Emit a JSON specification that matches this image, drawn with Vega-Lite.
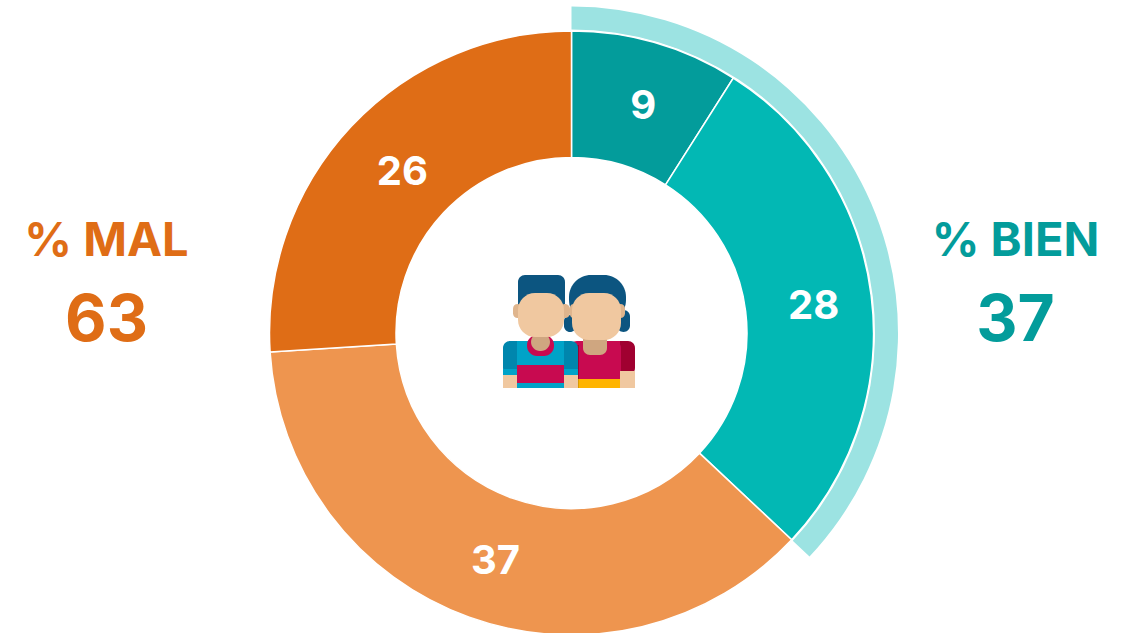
{"$schema":"https://vega.github.io/schema/vega-lite/v6.json","width":1118,"height":600,"padding":{"left":12.5,"top":33,"right":0,"bottom":0},"autosize":{"type":"none"},"background":"white","config":{"view":{"stroke":null}},
"datasets":{"seg":[{"segment":"Muy bien","value":9,"ord":1},{"segment":"Bien","value":28,"ord":2},{"segment":"Mal","value":37,"ord":3},{"segment":"Muy mal","value":26,"ord":4}],
"ring":[{"segment":"Total bien","value":37}],
"side":[{"group":"MAL","kind":"title","label":"% MAL"},{"group":"BIEN","kind":"title","label":"% BIEN"},{"group":"MAL","kind":"value","label":"63"},{"group":"BIEN","kind":"value","label":"37"}],
"icon":[
{"step":0,"part":"hair","x0":569,"x1":626,"y0":275,"y1":322},
{"step":1,"part":"hair","x0":564,"x1":576,"y0":315,"y1":332},
{"step":1,"part":"hair","x0":617,"x1":630,"y0":310,"y1":332},
{"step":1,"part":"hair","x0":518,"x1":565,"y0":275,"y1":315},
{"step":1,"part":"darkred","x0":610,"x1":635,"y0":341,"y1":375},
{"step":1,"part":"red","x0":570,"x1":621,"y0":341,"y1":380},
{"step":2,"part":"darkred","x0":570,"x1":579,"y0":345,"y1":379},
{"step":2,"part":"red","x0":579,"x1":620,"y0":341,"y1":379},
{"step":2,"part":"yellow","x0":579,"x1":620,"y0":379,"y1":388},
{"step":2,"part":"darkyellow","x0":576,"x1":579,"y0":379,"y1":388},
{"step":2,"part":"skin","x0":620,"x1":635,"y0":371,"y1":388},
{"step":3,"part":"darkblue","x0":503,"x1":578,"y0":341,"y1":375},
{"step":3,"part":"neck","x0":583,"x1":607,"y0":333,"y1":355},
{"step":4,"part":"blue","x0":517,"x1":564,"y0":341,"y1":388},
{"step":4,"part":"blue","x0":503,"x1":517,"y0":369,"y1":375},
{"step":4,"part":"blue","x0":564,"x1":578,"y0":369,"y1":375},
{"step":4,"part":"red","x0":517,"x1":564,"y0":365,"y1":383},
{"step":4,"part":"skin","x0":503,"x1":517,"y0":375,"y1":388},
{"step":4,"part":"skin","x0":564,"x1":578,"y0":375,"y1":388},
{"step":5,"part":"red","x0":527,"x1":554,"y0":335,"y1":356},
{"step":5,"part":"neck","x0":531,"x1":550,"y0":333,"y1":351},
{"step":5,"part":"ear","x0":513,"x1":522,"y0":304,"y1":318},
{"step":5,"part":"ear","x0":560,"x1":570,"y0":304,"y1":318},
{"step":5,"part":"ear","x0":570,"x1":577,"y0":304,"y1":318},
{"step":5,"part":"ear","x0":616,"x1":625,"y0":304,"y1":318},
{"step":6,"part":"skin","x0":518,"x1":564,"y0":293,"y1":337},
{"step":6,"part":"skin","x0":572,"x1":621,"y0":293,"y1":340}
]},
"resolve":{"scale":{"x":"independent","y":"independent","color":"independent","theta":"independent"}},
"layer":[
{"data":{"name":"ring"},"mark":{"type":"arc","innerRadius":303.5,"outerRadius":326.5},"encoding":{"theta":{"field":"value","type":"quantitative","scale":{"domain":[0,100]}},"color":{"field":"segment","type":"nominal","legend":null,"scale":{"range":["#9CE3E2"]}}}},
{"data":{"name":"seg"},"mark":{"type":"arc","innerRadius":175.5,"outerRadius":302,"stroke":"white","strokeWidth":1.5},"encoding":{"theta":{"field":"value","type":"quantitative","stack":true,"scale":{"domain":[0,100]}},"order":{"field":"ord"},"color":{"field":"segment","type":"nominal","legend":null,"scale":{"domain":["Muy bien","Bien","Mal","Muy mal"],"range":["#039C9B","#02B8B4","#EE954F","#DF6D16"]}}}},
{"data":{"name":"seg"},"mark":{"type":"text","radius":239,"dx":5,"dy":4,"font":"Inter","fontWeight":700,"fontSize":40,"fill":"white"},"encoding":{"theta":{"field":"value","type":"quantitative","stack":true,"scale":{"domain":[0,100]}},"order":{"field":"ord"},"text":{"field":"value"}}},
{"data":{"name":"side"},"mark":{"type":"text","font":"Inter","fontWeight":700,"baseline":"middle","align":"center"},"encoding":{"x":{"field":"group","type":"nominal","axis":null,"scale":{"type":"point","padding":0,"domain":["MAL","BIEN"],"range":[94,1003]}},"y":{"field":"kind","type":"nominal","axis":null,"scale":{"type":"point","padding":0,"domain":["title","value"],"range":[209,289]}},"text":{"field":"label"},"size":{"field":"kind","type":"nominal","legend":null,"scale":{"type":"ordinal","domain":["title","value"],"range":[47,64]}},"color":{"field":"group","type":"nominal","legend":null,"scale":{"domain":["MAL","BIEN"],"range":["#DF6D16","#039C9B"]}}}}
,
{"data":{"name":"icon"},"transform":[{"filter":"datum.step==0"}],"mark":{"type":"rect","cornerRadius":22},"encoding":{"x":{"field":"x0","type":"quantitative","axis":null,"scale":{"domain":[12.5,1130.5]}},"x2":{"field":"x1"},"y":{"field":"y0","type":"quantitative","axis":null,"scale":{"domain":[633,33]}},"y2":{"field":"y1"},"color":{"field":"part","type":"nominal","legend":null,"scale":{"domain":["hair","skin","ear","neck","red","darkred","blue","darkblue","yellow","darkyellow"],"range":["#0C5580","#F0C8A0","#DFB58D","#CFA680","#C80A50","#A00030","#00A3C8","#0086AD","#FFB400","#D89A00"]}}}},
{"data":{"name":"icon"},"transform":[{"filter":"datum.step==1"}],"mark":{"type":"rect","cornerRadius":7},"encoding":{"x":{"field":"x0","type":"quantitative","axis":null,"scale":{"domain":[12.5,1130.5]}},"x2":{"field":"x1"},"y":{"field":"y0","type":"quantitative","axis":null,"scale":{"domain":[633,33]}},"y2":{"field":"y1"},"color":{"field":"part","type":"nominal","legend":null,"scale":{"domain":["hair","skin","ear","neck","red","darkred","blue","darkblue","yellow","darkyellow"],"range":["#0C5580","#F0C8A0","#DFB58D","#CFA680","#C80A50","#A00030","#00A3C8","#0086AD","#FFB400","#D89A00"]}}}},
{"data":{"name":"icon"},"transform":[{"filter":"datum.step==2"}],"mark":{"type":"rect"},"encoding":{"x":{"field":"x0","type":"quantitative","axis":null,"scale":{"domain":[12.5,1130.5]}},"x2":{"field":"x1"},"y":{"field":"y0","type":"quantitative","axis":null,"scale":{"domain":[633,33]}},"y2":{"field":"y1"},"color":{"field":"part","type":"nominal","legend":null,"scale":{"domain":["hair","skin","ear","neck","red","darkred","blue","darkblue","yellow","darkyellow"],"range":["#0C5580","#F0C8A0","#DFB58D","#CFA680","#C80A50","#A00030","#00A3C8","#0086AD","#FFB400","#D89A00"]}}}},
{"data":{"name":"icon"},"transform":[{"filter":"datum.step==3"}],"mark":{"type":"rect","cornerRadius":7},"encoding":{"x":{"field":"x0","type":"quantitative","axis":null,"scale":{"domain":[12.5,1130.5]}},"x2":{"field":"x1"},"y":{"field":"y0","type":"quantitative","axis":null,"scale":{"domain":[633,33]}},"y2":{"field":"y1"},"color":{"field":"part","type":"nominal","legend":null,"scale":{"domain":["hair","skin","ear","neck","red","darkred","blue","darkblue","yellow","darkyellow"],"range":["#0C5580","#F0C8A0","#DFB58D","#CFA680","#C80A50","#A00030","#00A3C8","#0086AD","#FFB400","#D89A00"]}}}},
{"data":{"name":"icon"},"transform":[{"filter":"datum.step==4"}],"mark":{"type":"rect"},"encoding":{"x":{"field":"x0","type":"quantitative","axis":null,"scale":{"domain":[12.5,1130.5]}},"x2":{"field":"x1"},"y":{"field":"y0","type":"quantitative","axis":null,"scale":{"domain":[633,33]}},"y2":{"field":"y1"},"color":{"field":"part","type":"nominal","legend":null,"scale":{"domain":["hair","skin","ear","neck","red","darkred","blue","darkblue","yellow","darkyellow"],"range":["#0C5580","#F0C8A0","#DFB58D","#CFA680","#C80A50","#A00030","#00A3C8","#0086AD","#FFB400","#D89A00"]}}}},
{"data":{"name":"icon"},"transform":[{"filter":"datum.step==5"}],"mark":{"type":"rect","cornerRadius":10},"encoding":{"x":{"field":"x0","type":"quantitative","axis":null,"scale":{"domain":[12.5,1130.5]}},"x2":{"field":"x1"},"y":{"field":"y0","type":"quantitative","axis":null,"scale":{"domain":[633,33]}},"y2":{"field":"y1"},"color":{"field":"part","type":"nominal","legend":null,"scale":{"domain":["hair","skin","ear","neck","red","darkred","blue","darkblue","yellow","darkyellow"],"range":["#0C5580","#F0C8A0","#DFB58D","#CFA680","#C80A50","#A00030","#00A3C8","#0086AD","#FFB400","#D89A00"]}}}},
{"data":{"name":"icon"},"transform":[{"filter":"datum.step==6"}],"mark":{"type":"rect","cornerRadius":17},"encoding":{"x":{"field":"x0","type":"quantitative","axis":null,"scale":{"domain":[12.5,1130.5]}},"x2":{"field":"x1"},"y":{"field":"y0","type":"quantitative","axis":null,"scale":{"domain":[633,33]}},"y2":{"field":"y1"},"color":{"field":"part","type":"nominal","legend":null,"scale":{"domain":["hair","skin","ear","neck","red","darkred","blue","darkblue","yellow","darkyellow"],"range":["#0C5580","#F0C8A0","#DFB58D","#CFA680","#C80A50","#A00030","#00A3C8","#0086AD","#FFB400","#D89A00"]}}}}
]}
